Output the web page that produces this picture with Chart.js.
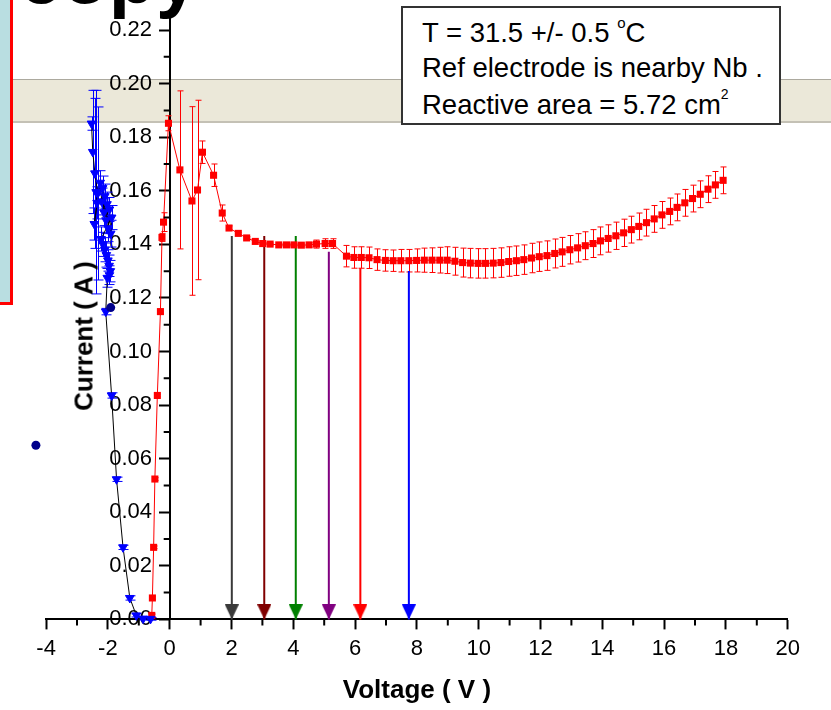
<!DOCTYPE html>
<html>
<head>
<meta charset="utf-8">
<script src="https://cdn.jsdelivr.net/npm/chart.js@4/dist/chart.umd.min.js"></script>
<style>
  html, body { margin: 0; padding: 0; background: #fff; }
  #wrap { position: relative; width: 831px; height: 710px; overflow: hidden; font-family: 'Liberation Sans', Arial, sans-serif; }
  #band { position: absolute; left: 0; top: 79px; width: 831px; height: 41px; background: #ebe8d9; border-top: 1px solid #aca99e; border-bottom: 2px solid #c4c1b5; z-index: 0; }
  #leftbox { position: absolute; left: -10px; top: -5px; width: 17px; height: 304px; background: #b9dee1; border: 3px solid #ff0000; z-index: 0; }
  #copy { position: absolute; left: 19px; top: -62px; font: bold 77px/77px 'Liberation Sans', Arial, sans-serif; color: #000; z-index: 0; white-space: nowrap; }
  #chart { position: absolute; left: 0; top: 0; z-index: 1; }
  #note { position: absolute; left: 401px; top: 6px; width: 380px; height: 119px; box-sizing: border-box; border: 2px solid #333; background: #fff; z-index: 2; font-size: 27.5px; color: #000; }
  #note .l { position: absolute; left: 19px; line-height: 27.5px; white-space: nowrap; }
  #note .sup { position: relative; font-size: 15px; }
  #ytitle { position: absolute; left: 84px; top: 336px; transform: translate(-50%, -50%) rotate(-90deg); font: bold 26px 'Liberation Sans', Arial, sans-serif; color: #000; white-space: nowrap; z-index: 2; }
</style>
</head>
<body>
<div id="wrap">
  <div id="band"></div>
  <div id="leftbox"></div>
  <div id="copy">copy</div>
  <canvas id="chart" width="831" height="710"></canvas>
  <div id="note">
    <div class="l" style="top:10.5px">T = 31.5 +/- 0.5 <span class="sup" style="top:-14px">o</span>C</div>
    <div class="l" style="top:46px">Ref electrode is nearby Nb .</div>
    <div class="l" style="top:83px">Reactive area = 5.72 cm<span class="sup" style="top:-15px;font-size:14px">2</span></div>
  </div>
  <div id="ytitle">Current ( A )</div>
</div>
<script>
// ---------- data ----------
const X_TICKS = [-4, -2, 0, 2, 4, 6, 8, 10, 12, 14, 16, 18, 20];
const X_MINOR = [-3, -1, 1, 3, 5, 7, 9, 11, 13, 15, 17, 19];
const Y_TICKS = [0, 0.02, 0.04, 0.06, 0.08, 0.10, 0.12, 0.14, 0.16, 0.18, 0.20, 0.22];
const Y_MINOR = [0.01, 0.03, 0.05, 0.07, 0.09, 0.11, 0.13, 0.15, 0.17, 0.19, 0.21];

// red series (squares) : voltage, current, error
const RED_V = [-0.58, -0.56, -0.52, -0.48, -0.40, -0.30, -0.25, -0.20, -0.04,
  0.33, 0.72, 0.90, 1.06, 1.42, 1.70, 1.92, 2.22, 2.49, 2.77, 3.01, 3.25, 3.53, 3.78, 4.02, 4.26, 4.51, 4.75, 5.03, 5.27,
  5.72, 5.96, 6.20, 6.45, 6.71, 6.98, 7.23, 7.48, 7.74, 7.99,
  8.24, 8.49, 8.74, 8.98, 9.23, 9.48, 9.73, 9.98, 10.22, 10.47, 10.72, 10.97, 11.22, 11.46, 11.71, 11.96,
  12.21, 12.46, 12.70, 12.95, 13.20, 13.45, 13.70, 13.94, 14.19, 14.44, 14.69, 14.94, 15.18, 15.43, 15.68, 15.93,
  16.18, 16.42, 16.67, 16.92, 17.17, 17.42, 17.66, 17.91];
const RED_I = [0.0015, 0.0080, 0.0269, 0.0524, 0.0836, 0.1149, 0.1426, 0.1483, 0.1852,
  0.1678, 0.1562, 0.1603, 0.1744, 0.1658, 0.1517, 0.1461, 0.1441, 0.1424, 0.1411, 0.1403, 0.1401, 0.1398, 0.1398, 0.1398, 0.1397, 0.1398, 0.1401, 0.1403, 0.1403,
  0.1356, 0.1351, 0.1351, 0.1350, 0.1343, 0.1340, 0.1339, 0.1339, 0.1339, 0.1340,
  0.1341, 0.1341, 0.1341, 0.1341, 0.1337, 0.1332, 0.1330, 0.1329, 0.1329, 0.1330, 0.1332, 0.1336, 0.1339, 0.1343, 0.1349, 0.1354,
  0.1358, 0.1366, 0.1372, 0.1380, 0.1387, 0.1395, 0.1403, 0.1413, 0.1422, 0.1432, 0.1443, 0.1455, 0.1467, 0.1481,
  0.1495, 0.1510, 0.1523, 0.1538, 0.1555, 0.1571, 0.1587, 0.1606, 0.1622, 0.1639];
const RED_ERR = [0.0005, 0.0005, 0.0005, 0.0005, 0.0005, 0.0008, 0.0015, 0.0035, 0.0028,
  0.0295, 0.0352, 0.0335, 0.0042, 0.0042, 0.0030, 0.0008, 0.0004, 0.0004, 0.0004, 0.0004, 0.0004, 0.0004, 0.0004, 0.0004, 0.0005, 0.0008, 0.0015, 0.0018, 0.0018,
  0.0040, 0.0040, 0.0040, 0.0040, 0.0040, 0.0040, 0.0040, 0.0042, 0.0042, 0.0043,
  0.0045, 0.0046, 0.0048, 0.0050, 0.0052, 0.0054, 0.0055, 0.0055, 0.0055, 0.0055, 0.0055, 0.0055, 0.0055, 0.0055, 0.0055, 0.0055,
  0.0055, 0.0054, 0.0054, 0.0053, 0.0053, 0.0052, 0.0052, 0.0052, 0.0051, 0.0051, 0.0051, 0.0050, 0.0050, 0.0050,
  0.0050, 0.0050, 0.0050, 0.0050, 0.0050, 0.0050, 0.0050, 0.0050, 0.0050, 0.0050];

// blue series (down triangles, black connecting line)
const BLUE_V = [-2.53, -2.49, -2.42, -2.33, -2.38, -2.35, -2.44,
  -2.25, -2.20, -2.17, -2.13, -2.10, -2.06, -2.03, -1.99, -1.95, -1.91, -1.88,
  -2.22, -2.16, -2.10, -2.05, -2.00, -1.96, -1.92, -1.95, -2.02,
  -2.07, -1.88, -1.72, -1.51, -1.29, -1.08, -0.86, -0.62];
const BLUE_I = [0.1851, 0.1745, 0.1665, 0.1590, 0.1595, 0.1555, 0.1476,
  0.1630, 0.1560, 0.1610, 0.1520, 0.1580, 0.1490, 0.1550, 0.1460, 0.1530, 0.1440, 0.1500,
  0.1420, 0.1400, 0.1380, 0.1360, 0.1340, 0.1320, 0.1300, 0.1285, 0.1275,
  0.1149, 0.0836, 0.0523, 0.0269, 0.0080, 0.0015, 0.0003, 0.0002];
const BLUE_ERR = [0.0025, 0.0230, 0.0280, 0.0323, 0.0380, 0.0060, 0.0060,
  0.0045, 0.0050, 0.0045, 0.0050, 0.0045, 0.0050, 0.0045, 0.0050, 0.0045, 0.0050, 0.0045,
  0.0045, 0.0045, 0.0045, 0.0045, 0.0040, 0.0040, 0.0040, 0.0035, 0.0035,
  0.0012, 0.0010, 0.0008, 0.0008, 0.0008, 0.0006, 0.0005, 0.0005];

// navy circles
const NAVY_V = [-1.91, -4.33];
const NAVY_I = [0.1164, 0.0650];

// arrows: voltage, start current (end at 0)
const ARROW_V = [2.01, 3.06, 4.08, 5.15, 6.17, 7.74];
const ARROW_TOP = [0.1431, 0.1431, 0.1431, 0.1372, 0.1311, 0.1301];
const ARROW_COLORS = ['#3a3a3a', '#800000', '#008000', '#800080', '#ff0000', '#0000ff'];

// ---------- helpers ----------
const pts = (xs, ys) => xs.map((v, i) => ({x: v, y: ys[i]}));
function arrowHead(color) {
  const c = document.createElement('canvas');
  c.width = 14; c.height = 30;
  const g = c.getContext('2d');
  g.fillStyle = color;
  g.beginPath(); g.moveTo(0, 0); g.lineTo(14, 0); g.lineTo(7, 15); g.closePath(); g.fill();
  return c;
}

const errorBars = {
  id: 'errorBars',
  beforeDatasetsDraw(chart) {
    const ctx = chart.ctx, xs = chart.scales.x, ys = chart.scales.y;
    chart.data.datasets.forEach(ds => {
      if (!ds.errors) return;
      ctx.save();
      ctx.strokeStyle = ds.errorColor;
      ctx.lineWidth = 1;
      ds.data.forEach((p, i) => {
        const e = ds.errors[i];
        if (!e) return;
        const x = Math.round(xs.getPixelForValue(p.x)) + 0.5;
        const y1 = ys.getPixelForValue(p.y + e), y2 = ys.getPixelForValue(p.y - e);
        const c = ds.capWidth / 2;
        ctx.beginPath();
        ctx.moveTo(x, y1); ctx.lineTo(x, y2);
        ctx.moveTo(x - c, y1); ctx.lineTo(x + c, y1);
        ctx.moveTo(x - c, y2); ctx.lineTo(x + c, y2);
        ctx.stroke();
      });
      ctx.restore();
    });
  }
};

const minorTicks = {
  id: 'minorTicks',
  afterDraw(chart) {
    const ctx = chart.ctx, xs = chart.scales.x, ys = chart.scales.y;
    const y0 = ys.getPixelForValue(0), x0 = xs.getPixelForValue(0);
    ctx.save();
    ctx.strokeStyle = '#000'; ctx.lineWidth = 2;
    ctx.beginPath();
    X_MINOR.forEach(v => { const px = xs.getPixelForValue(v); ctx.moveTo(px, y0); ctx.lineTo(px, y0 + 6); });
    Y_MINOR.forEach(v => { const py = ys.getPixelForValue(v); ctx.moveTo(x0, py); ctx.lineTo(x0 - 6, py); });
    ctx.stroke();
    ctx.restore();
  }
};

Chart.defaults.font.family = "'Liberation Sans', Arial, sans-serif";
Chart.defaults.color = '#000';

const datasets = [];
ARROW_V.forEach((v, i) => {
  datasets.push({
    data: [{x: v, y: ARROW_TOP[i]}, {x: v, y: 0}],
    showLine: true,
    borderColor: ARROW_COLORS[i],
    borderWidth: 2,
    pointRadius: [0, 8],
    pointStyle: arrowHead(ARROW_COLORS[i]),
    clip: false,
    order: 5
  });
});
datasets.push({
  data: pts(RED_V, RED_I),
  errors: RED_ERR, errorColor: '#ff0000', capWidth: 6,
  showLine: true,
  borderColor: '#ff0000', borderWidth: 1,
  pointStyle: 'rect', pointRadius: 5,
  pointBackgroundColor: '#ff0000', pointBorderColor: '#ff0000', pointBorderWidth: 0,
  clip: false, order: 3
});
datasets.push({
  data: pts(BLUE_V, BLUE_I),
  errors: BLUE_ERR, errorColor: '#0000ff', capWidth: 10,
  showLine: true,
  borderColor: '#000000', borderWidth: 1,
  pointStyle: 'triangle', rotation: 180, pointRadius: 5,
  pointBackgroundColor: '#0000ff', pointBorderColor: '#0000ff', pointBorderWidth: 1,
  clip: false, order: 2
});
datasets.push({
  data: pts(NAVY_V, NAVY_I),
  showLine: false,
  pointStyle: 'circle', pointRadius: 4.5,
  pointBackgroundColor: '#00008b', pointBorderColor: 'rgba(0,0,0,0)', pointBorderWidth: 9,
  clip: false, order: 1
});

const Y_MIN = 0, Y_MAX = 0.2245;

new Chart(document.getElementById('chart'), {
  type: 'scatter',
  data: { datasets },
  options: {
    responsive: false,
    devicePixelRatio: 1,
    animation: false,
    events: [],
    layout: { padding: { left: 46.1, right: 43.3, top: 18, bottom: 0 } },
    plugins: { legend: { display: false }, tooltip: { enabled: false } },
    scales: {
      x: {
        type: 'linear', min: -4, max: 20,
        afterBuildTicks: ax => { ax.ticks = X_TICKS.map(v => ({value: v})); },
        border: { display: true, color: '#000', width: 2 },
        grid: { display: true, drawOnChartArea: false, drawTicks: true, tickLength: 10, tickWidth: 2, tickColor: '#000' },
        ticks: { font: { size: 22 }, color: '#000', padding: 6, maxRotation: 0, autoSkip: false, callback: v => String(v) },
        title: { display: true, text: 'Voltage ( V )', font: { size: 26, weight: 'bold' }, color: '#000', padding: { top: 7, bottom: 4 } }
      },
      y: {
        type: 'linear', min: Y_MIN, max: Y_MAX, position: { x: 0 },
        afterBuildTicks: ax => { ax.ticks = Y_TICKS.map(v => ({value: v})); },
        border: { display: true, color: '#000', width: 2 },
        grid: { display: true, drawOnChartArea: false, drawTicks: true, tickLength: 10, tickWidth: 2, tickColor: '#000' },
        ticks: { display: false }
      },
      yl: {
        type: 'linear', min: Y_MIN, max: Y_MAX, position: { x: -0.57 },
        afterBuildTicks: ax => { ax.ticks = Y_TICKS.map(v => ({value: v})); },
        border: { display: false },
        grid: { display: false },
        ticks: { font: { size: 22 }, color: '#000', padding: 0, autoSkip: false, callback: v => v.toFixed(2) }
      }
    }
  },
  plugins: [errorBars, minorTicks]
});
</script>
</body>
</html>
